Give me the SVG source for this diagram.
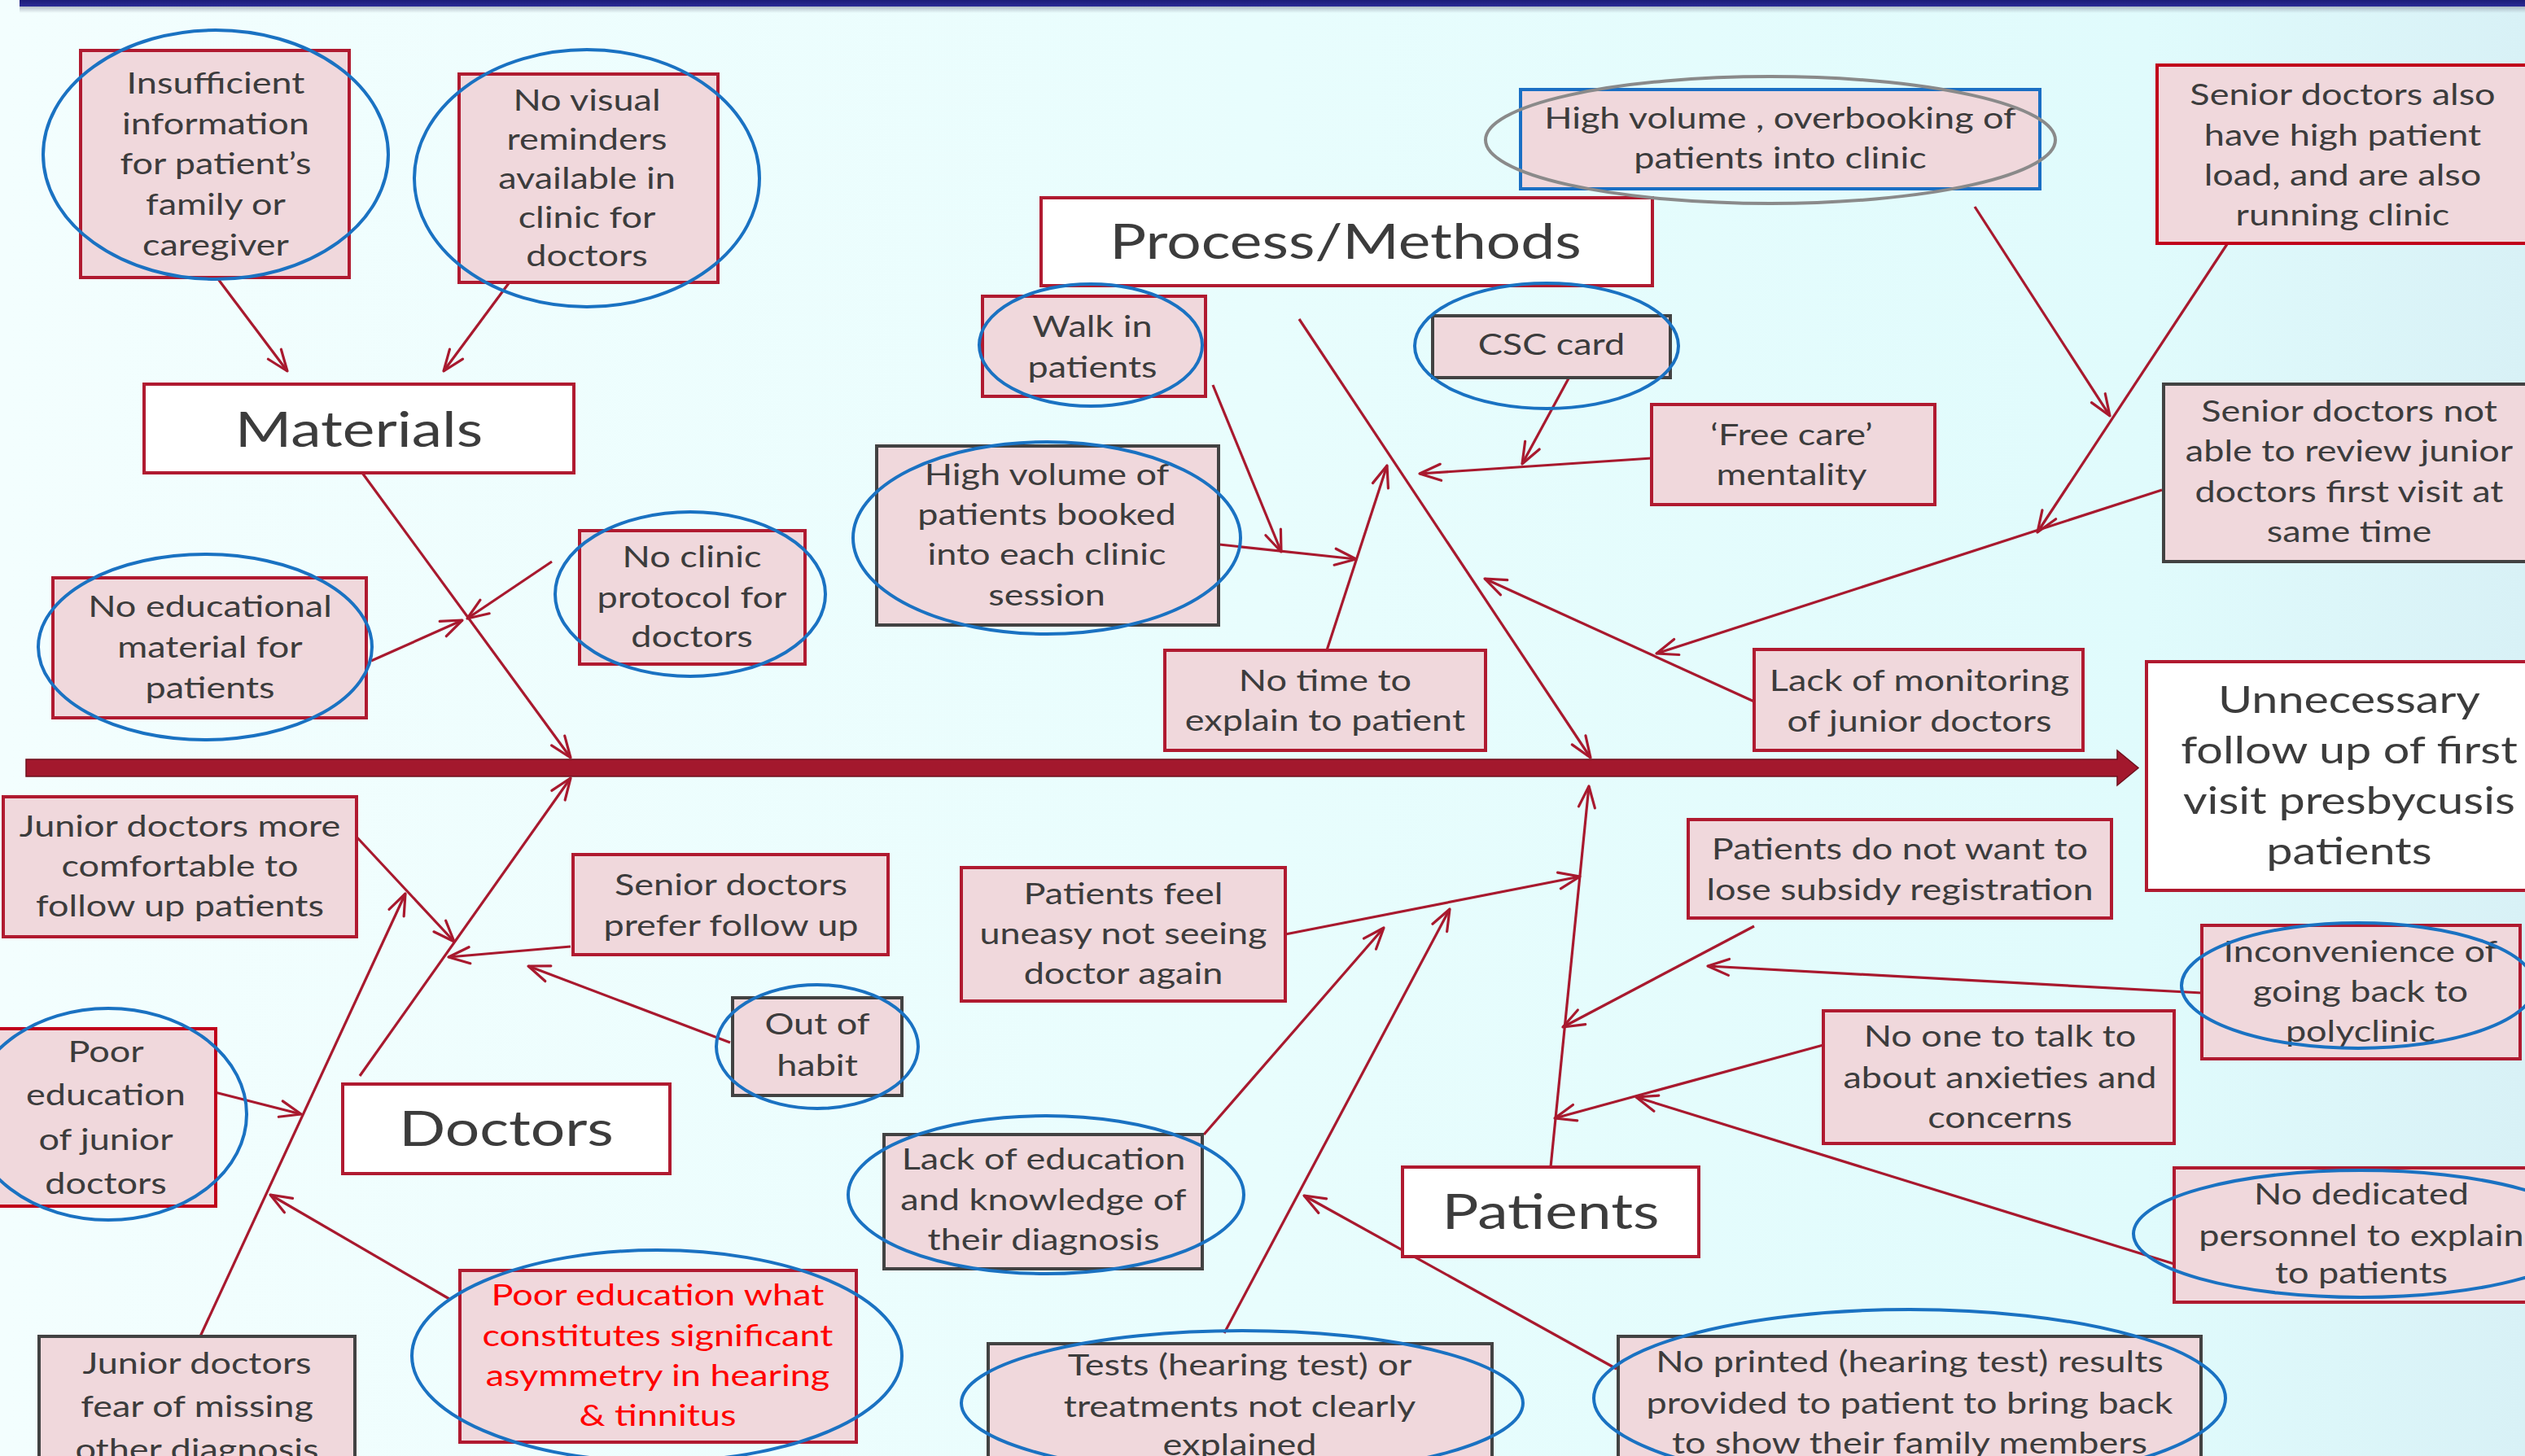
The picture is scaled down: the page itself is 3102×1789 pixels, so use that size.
<svg xmlns="http://www.w3.org/2000/svg" width="3102" height="1789" viewBox="0 0 3102 1789">
<defs>
<linearGradient id="bg" x1="0" y1="0" x2="1" y2="0">
<stop offset="0" stop-color="#f3fefe"/>
<stop offset="0.5" stop-color="#e8fdfd"/>
<stop offset="0.85" stop-color="#e0fbfc"/>
<stop offset="1" stop-color="#d8f1f6"/>
</linearGradient>
<linearGradient id="bar" x1="0" y1="0" x2="0" y2="1">
<stop offset="0" stop-color="#1c1c78"/>
<stop offset="1" stop-color="#2b2b96"/>
</linearGradient>
<linearGradient id="shadow" x1="0" y1="0" x2="0" y2="1">
<stop offset="0" stop-color="#8e97a6" stop-opacity="0.7"/>
<stop offset="1" stop-color="#8e97a6" stop-opacity="0"/>
</linearGradient>
<marker id="ah" viewBox="0 0 32 24" refX="29" refY="12" markerWidth="32" markerHeight="24" markerUnits="userSpaceOnUse" orient="auto">
<path d="M3,2 L29,12 L3,22" fill="none" stroke="#a8192e" stroke-width="3.2" stroke-linecap="round" stroke-linejoin="round"/>
</marker>
</defs>
<style>
.box{fill:#f0d8dc;stroke:#b01a30;stroke-width:4}
.boxr{fill:#f0d8dc;stroke:#c0001a;stroke-width:4}
.boxg{fill:#f0d8dc;stroke:#424242;stroke-width:4}
.boxb{fill:#f0d8dc;stroke:#1a6fc4;stroke-width:4}
.cat{fill:#ffffff;stroke:#b01a30;stroke-width:4}
.ov{fill:none;stroke:#1a72c2;stroke-width:4}
.ovg{fill:none;stroke:#8a8a8a;stroke-width:4}
.c{fill:none;stroke:#a8192e;stroke-width:3.2;marker-end:url(#ah)}
.t{font-family:Lato,"Open Sans","Liberation Sans",sans-serif;font-size:36px;fill:#3c3c3c;text-anchor:middle;transform-box:fill-box;transform-origin:center;transform:scaleX(1.25)}
.h{font-size:60px}
.hd{font-size:46px}
.red{fill:#ff0000}
</style>
<rect x="0" y="0" width="3102" height="1789" fill="url(#bg)"/>
<rect x="24" y="7" width="3078" height="9" fill="url(#shadow)"/>
<rect x="24" y="0" width="3078" height="8" fill="url(#bar)"/>

<g id="connectors">
<polygon points="32,933 2601,933 2601,922 2627,943.5 2601,965 2601,954 32,954" fill="#a3182d" stroke="#6e0f1d" stroke-width="1.5"/>
<line class="c" x1="268" y1="343" x2="353" y2="456"/>
<line class="c" x1="625" y1="348" x2="545" y2="456"/>
<line class="c" x1="445" y1="581" x2="701" y2="931"/>
<line class="c" x1="456" y1="812" x2="568" y2="762"/>
<line class="c" x1="678" y1="690" x2="574" y2="760"/>
<line class="c" x1="442" y1="1322" x2="701" y2="956"/>
<line class="c" x1="246" y1="1642" x2="498" y2="1098"/>
<line class="c" x1="435" y1="1025" x2="558" y2="1157"/>
<line class="c" x1="701" y1="1163" x2="551" y2="1176"/>
<line class="c" x1="897" y1="1281" x2="649" y2="1187"/>
<line class="c" x1="256" y1="1340" x2="370" y2="1369"/>
<line class="c" x1="552" y1="1596" x2="332" y2="1468"/>
<line class="c" x1="1596" y1="392" x2="1954" y2="931"/>
<line class="c" x1="1490" y1="473" x2="1574" y2="678"/>
<line class="c" x1="1498" y1="669" x2="1666" y2="687"/>
<line class="c" x1="1630" y1="799" x2="1704" y2="572"/>
<line class="c" x1="1927" y1="465" x2="1870" y2="570"/>
<line class="c" x1="2029" y1="563" x2="1744" y2="582"/>
<line class="c" x1="2155" y1="862" x2="1824" y2="711"/>
<line class="c" x1="2426" y1="254" x2="2592" y2="511"/>
<line class="c" x1="2736" y1="300" x2="2503" y2="654"/>
<line class="c" x1="2656" y1="602" x2="2035" y2="803"/>
<line class="c" x1="1905" y1="1434" x2="1952" y2="966"/>
<line class="c" x1="1579" y1="1148" x2="1941" y2="1077"/>
<line class="c" x1="1479" y1="1394" x2="1700" y2="1140"/>
<line class="c" x1="1504" y1="1638" x2="1781" y2="1117"/>
<line class="c" x1="1986" y1="1682" x2="1602" y2="1469"/>
<line class="c" x1="2155" y1="1138" x2="1920" y2="1262"/>
<line class="c" x1="2705" y1="1220" x2="2098" y2="1187"/>
<line class="c" x1="2240" y1="1284" x2="1910" y2="1374"/>
<line class="c" x1="2671" y1="1553" x2="2010" y2="1348"/>
</g>

<g id="n-insufficient">
<rect class="box" x="99" y="62" width="330" height="279"/>
<text class="t"><tspan x="265" y="115">Insufficient</tspan><tspan x="265" y="165">information</tspan><tspan x="265" y="214">for patient’s</tspan><tspan x="265" y="264">family or</tspan><tspan x="265" y="314">caregiver</tspan></text>
<ellipse class="ov" cx="265" cy="190" rx="212" ry="153"/>
</g>
<g id="n-novisual">
<rect class="box" x="564" y="91" width="318" height="256"/>
<text class="t"><tspan x="721" y="136">No visual</tspan><tspan x="721" y="184">reminders</tspan><tspan x="721" y="232">available  in</tspan><tspan x="721" y="280">clinic for</tspan><tspan x="721" y="327">doctors</tspan></text>
<ellipse class="ov" cx="721" cy="219" rx="212" ry="158"/>
</g>
<g id="n-materials">
<rect class="cat" x="177" y="472" width="528" height="109"/>
<text class="t h" x="441" y="549">Materials</text>
</g>
<g id="n-noeducational">
<rect class="box" x="65" y="710" width="385" height="172"/>
<text class="t"><tspan x="258" y="758">No educational</tspan><tspan x="258" y="808">material for</tspan><tspan x="258" y="858">patients</tspan></text>
<ellipse class="ov" cx="252" cy="795" rx="205" ry="114"/>
</g>
<g id="n-noclinic">
<rect class="box" x="712" y="652" width="277" height="164"/>
<text class="t"><tspan x="850" y="697">No clinic</tspan><tspan x="850" y="747">protocol for</tspan><tspan x="850" y="795">doctors</tspan></text>
<ellipse class="ov" cx="848" cy="730" rx="166" ry="101"/>
</g>
<g id="n-juniormore">
<rect class="box" x="4" y="979" width="434" height="172"/>
<text class="t"><tspan x="221" y="1028">Junior doctors more</tspan><tspan x="221" y="1077">comfortable to</tspan><tspan x="221" y="1126">follow up patients</tspan></text>
</g>
<g id="n-seniorprefer">
<rect class="box" x="704" y="1050" width="387" height="123"/>
<text class="t"><tspan x="898" y="1100">Senior doctors</tspan><tspan x="898" y="1150">prefer follow up</tspan></text>
</g>
<g id="n-outofhabit">
<rect class="boxg" x="900" y="1226" width="208" height="120"/>
<text class="t"><tspan x="1004" y="1271">Out of</tspan><tspan x="1004" y="1322">habit</tspan></text>
<ellipse class="ov" cx="1004" cy="1286" rx="124" ry="76"/>
</g>
<g id="n-pooredjunior">
<rect class="boxr" x="-4" y="1264" width="269" height="218"/>
<text class="t"><tspan x="130" y="1305">Poor</tspan><tspan x="130" y="1358">education</tspan><tspan x="130" y="1413">of junior</tspan><tspan x="130" y="1467">doctors</tspan></text>
<ellipse class="ov" cx="133" cy="1369" rx="170" ry="130"/>
</g>
<g id="n-doctors">
<rect class="cat" x="421" y="1332" width="402" height="110"/>
<text class="t h" x="622" y="1408">Doctors</text>
</g>
<g id="n-asymmetry">
<rect class="box" x="565" y="1561" width="487" height="211"/>
<text class="t red"><tspan x="808" y="1604">Poor education what</tspan><tspan x="808" y="1654">constitutes significant</tspan><tspan x="808" y="1703">asymmetry in hearing</tspan><tspan x="808" y="1752">&amp; tinnitus</tspan></text>
<ellipse class="ov" cx="807" cy="1666" rx="301" ry="130"/>
</g>
<g id="n-fear">
<rect class="boxg" x="48" y="1642" width="388" height="170"/>
<text class="t"><tspan x="242" y="1688">Junior doctors</tspan><tspan x="242" y="1741">fear of missing</tspan><tspan x="242" y="1794">other diagnosis</tspan></text>
</g>
<g id="n-process">
<rect class="cat" x="1279" y="243" width="751" height="108"/>
<text class="t h" x="1653" y="318">Process/Methods</text>
</g>
<g id="n-overbooking">
<rect class="boxb" x="1868" y="110" width="638" height="122"/>
<text class="t"><tspan x="2187" y="158">High volume , overbooking of</tspan><tspan x="2187" y="207">patients into clinic</tspan></text>
<ellipse class="ovg" cx="2175" cy="172" rx="350" ry="78"/>
</g>
<g id="n-walkin">
<rect class="box" x="1207" y="364" width="274" height="123"/>
<text class="t"><tspan x="1342" y="414">Walk in</tspan><tspan x="1342" y="464">patients</tspan></text>
<ellipse class="ov" cx="1340" cy="424" rx="137" ry="75"/>
</g>
<g id="n-csc">
<rect class="boxg" x="1760" y="388" width="292" height="76"/>
<text class="t" x="1906" y="436">CSC card</text>
<ellipse class="ov" cx="1900" cy="425" rx="162" ry="77"/>
</g>
<g id="n-freecare">
<rect class="box" x="2029" y="497" width="348" height="123"/>
<text class="t"><tspan x="2201" y="547">‘Free care’</tspan><tspan x="2201" y="596">mentality</tspan></text>
</g>
<g id="n-senioralso">
<rect class="boxr" x="2650" y="80" width="470" height="219"/>
<text class="t"><tspan x="2878" y="129">Senior doctors also</tspan><tspan x="2878" y="179">have high patient</tspan><tspan x="2878" y="228">load, and are also</tspan><tspan x="2878" y="277">running clinic</tspan></text>
</g>
<g id="n-seniornotable">
<rect class="boxg" x="2658" y="472" width="460" height="218"/>
<text class="t"><tspan x="2886" y="518">Senior doctors not</tspan><tspan x="2886" y="567">able to review  junior</tspan><tspan x="2886" y="617">doctors first visit at</tspan><tspan x="2886" y="666">same time</tspan></text>
</g>
<g id="n-highvolume">
<rect class="boxg" x="1077" y="548" width="420" height="220"/>
<text class="t"><tspan x="1286" y="596">High volume of</tspan><tspan x="1286" y="645">patients booked</tspan><tspan x="1286" y="694">into each clinic</tspan><tspan x="1286" y="744">session</tspan></text>
<ellipse class="ov" cx="1286" cy="661" rx="238" ry="118"/>
</g>
<g id="n-notime">
<rect class="box" x="1431" y="799" width="394" height="123"/>
<text class="t"><tspan x="1628" y="849">No time to</tspan><tspan x="1628" y="898">explain to patient</tspan></text>
</g>
<g id="n-monitoring">
<rect class="box" x="2155" y="798" width="404" height="124"/>
<text class="t"><tspan x="2358" y="849">Lack of monitoring</tspan><tspan x="2358" y="899">of junior doctors</tspan></text>
</g>
<g id="n-head">
<rect class="cat" x="2637" y="813" width="480" height="281"/>
<text class="t hd"><tspan x="2886" y="876">Unnecessary</tspan><tspan x="2886" y="938">follow up of first</tspan><tspan x="2886" y="1000">visit presbycusis</tspan><tspan x="2886" y="1062">patients</tspan></text>
</g>
<g id="n-subsidy">
<rect class="box" x="2074" y="1007" width="520" height="121"/>
<text class="t"><tspan x="2334" y="1056">Patients do not want to</tspan><tspan x="2334" y="1106">lose subsidy registration</tspan></text>
</g>
<g id="n-uneasy">
<rect class="box" x="1181" y="1066" width="398" height="164"/>
<text class="t"><tspan x="1380" y="1111">Patients feel</tspan><tspan x="1380" y="1160">uneasy not seeing</tspan><tspan x="1380" y="1209">doctor again</tspan></text>
</g>
<g id="n-inconvenience">
<rect class="box" x="2705" y="1137" width="391" height="164"/>
<text class="t"><tspan x="2900" y="1182">Inconvenience of</tspan><tspan x="2900" y="1231">going back to</tspan><tspan x="2900" y="1280">polyclinic</tspan></text>
<ellipse class="ov" cx="2897" cy="1211" rx="217" ry="77"/>
</g>
<g id="n-noone">
<rect class="box" x="2240" y="1242" width="431" height="163"/>
<text class="t"><tspan x="2457" y="1286">No one to talk to</tspan><tspan x="2457" y="1337">about anxieties and</tspan><tspan x="2457" y="1386">concerns</tspan></text>
</g>
<g id="n-dedicated">
<rect class="box" x="2671" y="1435" width="450" height="165"/>
<text class="t"><tspan x="2901" y="1480">No dedicated</tspan><tspan x="2901" y="1531">personnel to explain</tspan><tspan x="2901" y="1577">to patients</tspan></text>
<ellipse class="ov" cx="2900" cy="1516" rx="279" ry="78"/>
</g>
<g id="n-patients">
<rect class="cat" x="1723" y="1434" width="364" height="110"/>
<text class="t h" x="1905" y="1510">Patients</text>
</g>
<g id="n-lackeducation">
<rect class="boxg" x="1086" y="1394" width="391" height="165"/>
<text class="t"><tspan x="1282" y="1437">Lack of education</tspan><tspan x="1282" y="1487">and knowledge  of</tspan><tspan x="1282" y="1536">their diagnosis</tspan></text>
<ellipse class="ov" cx="1285" cy="1468" rx="243" ry="97"/>
</g>
<g id="n-tests">
<rect class="boxg" x="1214" y="1651" width="619" height="170"/>
<text class="t"><tspan x="1523" y="1690">Tests (hearing test) or</tspan><tspan x="1523" y="1741">treatments not clearly</tspan><tspan x="1523" y="1788">explained</tspan></text>
<ellipse class="ov" cx="1526" cy="1724" rx="345" ry="89"/>
</g>
<g id="n-printed">
<rect class="boxg" x="1988" y="1642" width="716" height="170"/>
<text class="t"><tspan x="2346" y="1686">No printed (hearing test) results</tspan><tspan x="2346" y="1737">provided to patient to bring back</tspan><tspan x="2346" y="1786">to show their family members</tspan></text>
<ellipse class="ov" cx="2346" cy="1718" rx="388" ry="109"/>
</g>
</svg>
